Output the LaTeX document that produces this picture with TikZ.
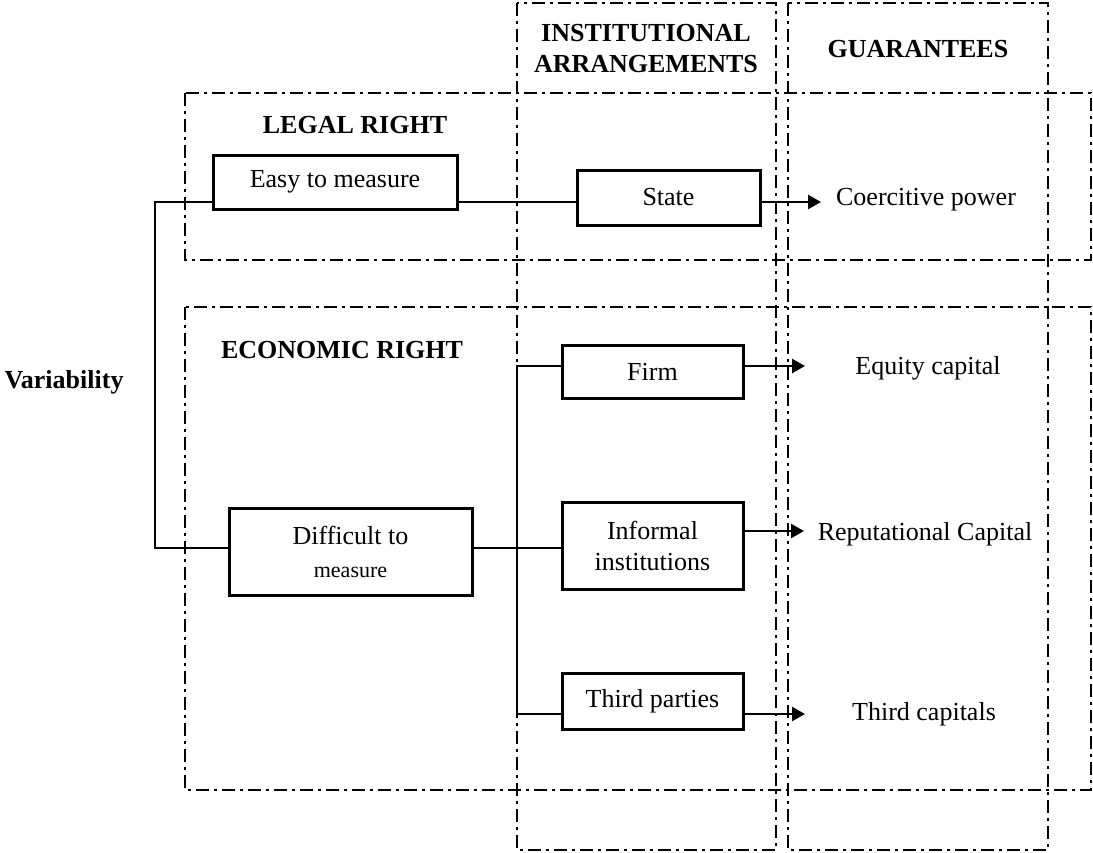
\documentclass[tikz,border=0pt]{standalone}
\usepackage{fontspec}
\setmainfont{Liberation Serif}
\usetikzlibrary{arrows.meta}
\begin{document}
\begin{tikzpicture}[x=1pt,y=-1pt,
  every node/.style={font=\fontsize{26}{31}\selectfont, inner sep=0pt},
  frame/.style={line width=2.2pt, dash pattern=on 13pt off 5pt on 3pt off 5pt},
  boxnode/.style={draw, line width=3pt, align=center},
  conn/.style={line width=2.5pt},
  arr/.style={line width=2.5pt, -{Triangle[length=13pt,width=14pt]}},
  head/.style={font=\fontsize{26}{31}\selectfont\bfseries, align=center},
  plain/.style={font=\fontsize{26}{31}\selectfont}
]
\path[use as bounding box] (0,0) rectangle (1093,852);

% dash-dot frames
\draw[frame] (517,3) rectangle (776,850);
\draw[frame] (788,3) rectangle (1048,850);
\draw[frame] (185,93) rectangle (1091,260);
\draw[frame] (185,307) rectangle (1091,790);

% headings
\node[head] (inst) at (646,49) {INSTITUTIONAL\\ARRANGEMENTS};
\node[head] (guar) at (918,49) {GUARANTEES};
\node[head] (legal) at (355,125) {LEGAL RIGHT};
\node[head] (econ) at (342,350) {ECONOMIC RIGHT};
\node[head] (var) at (64,382) {Variability};

% boxes
\node[boxnode, minimum width=244pt, minimum height=54pt] (easy) at (335,182) {Easy to measure};
\node[boxnode, minimum width=183pt, minimum height=55pt] (state) at (668.5,197.5) {State};
\node[boxnode, minimum width=243pt, minimum height=87pt] (diff) at (350.5,551.5) {Difficult to\\[2pt]{\fontsize{22}{26}\selectfont measure}};
\node[boxnode, minimum width=181pt, minimum height=53pt] (firm) at (652.5,371.5) {Firm};
\node[boxnode, minimum width=181pt, minimum height=87pt] (inf) at (652.5,545.5) {Informal\\institutions};
\node[boxnode, minimum width=181pt, minimum height=56pt] (third) at (652.5,701) {Third parties};

% guarantees texts
\node[plain] (coer) at (926,200) {Coercitive power};
\node[plain] (equity) at (928,368) {Equity capital};
\node[plain] (rep) at (925,534) {Reputational Capital};
\node[plain] (thcap) at (924,714) {Third capitals};

% junction coordinates
\coordinate (j1) at (155,202);
\coordinate (j2) at (155,548);
\coordinate (v1) at (517,366);
\coordinate (v2) at (517,548);
\coordinate (v3) at (517,714);
\coordinate (t0) at (821,202);
\coordinate (t1) at (805,366);
\coordinate (t2) at (804,531);
\coordinate (t3) at (805,714);

% connectors
\draw[conn] (easy.west |- j1) -- (j1) -- (j2) -- (diff.west |- j2);
\draw[conn] (easy.east |- j1) -- (state.west |- j1);
\draw[arr] (state.east |- j1) -- (t0);
\draw[conn] (diff.east |- j2) -- (v2);
\draw[conn] (firm.west |- v1) -- (v1) -- (v3) -- (third.west |- v3);
\draw[conn] (v2) -- (inf.west |- v2);
\draw[arr] (firm.east |- t1) -- (t1);
\draw[arr] (inf.east |- t2) -- (t2);
\draw[arr] (third.east |- t3) -- (t3);
\end{tikzpicture}
\end{document}
